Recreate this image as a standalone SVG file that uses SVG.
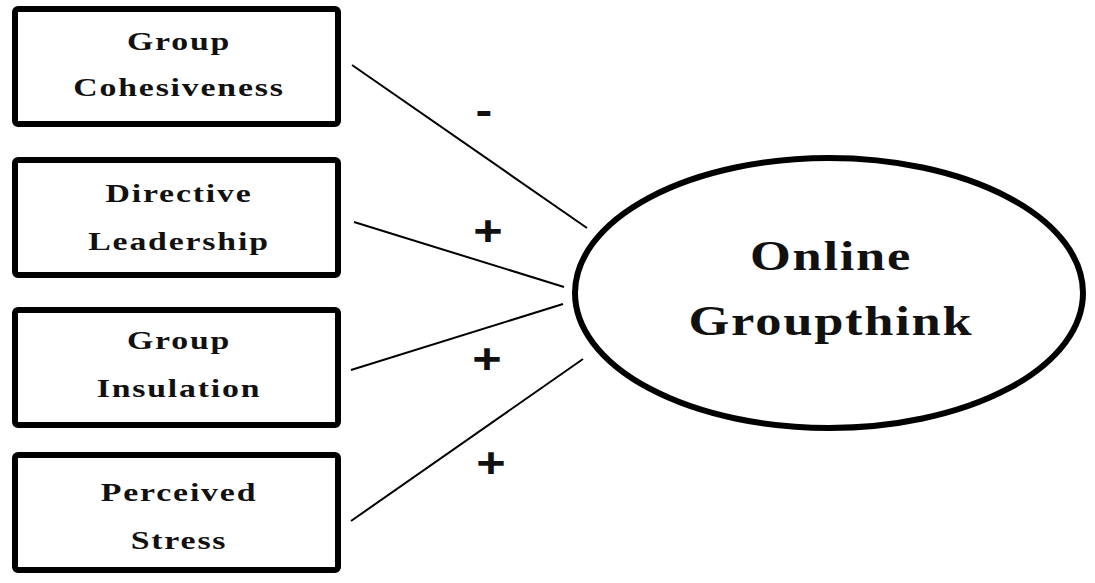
<svg xmlns="http://www.w3.org/2000/svg" width="1095" height="583" viewBox="0 0 1095 583">
<style>
.box{fill:#fff;stroke:#000;stroke-width:6}
.bt{font-family:"Liberation Serif",serif;font-weight:bold;font-size:26px;letter-spacing:1.4px;text-anchor:middle;fill:#111}
.et{font-family:"Liberation Serif",serif;font-weight:bold;font-size:42px;letter-spacing:1.4px;text-anchor:middle;fill:#111}
.lab{font-family:"Liberation Sans",sans-serif;font-weight:bold;font-size:42px;text-anchor:middle;fill:#111}
.c{stroke:#000;stroke-width:2;fill:none}
</style>
<rect width="1095" height="583" fill="#fff"/>
<g id="connectors">
<line class="c" x1="352" y1="65" x2="587" y2="228"/>
<line class="c" x1="354" y1="222" x2="564" y2="287"/>
<line class="c" x1="351" y1="370" x2="563" y2="304"/>
<line class="c" x1="351" y1="521" x2="583" y2="359"/>
<text class="lab" transform="translate(484,125) scale(1.2,1)" x="0" y="0">-</text>
<text class="lab" transform="translate(488,245) scale(1.2,1)" x="0" y="0">+</text>
<text class="lab" transform="translate(487,373) scale(1.2,1)" x="0" y="0">+</text>
<text class="lab" transform="translate(491,477) scale(1.2,1)" x="0" y="0">+</text>
</g>
<g id="cohesiveness">
<rect class="box" x="15" y="9" width="323" height="115" rx="3"/>
<g transform="translate(179,0) scale(1.3,1)">
<text class="bt" x="0" y="50">Group</text>
<text class="bt" x="0" y="96">Cohesiveness</text>
</g>
</g>
<g id="leadership">
<rect class="box" x="15" y="160" width="323" height="115" rx="3"/>
<g transform="translate(179,0) scale(1.3,1)">
<text class="bt" x="0" y="202">Directive</text>
<text class="bt" x="0" y="250">Leadership</text>
</g>
</g>
<g id="insulation">
<rect class="box" x="15" y="310" width="323" height="115" rx="3"/>
<g transform="translate(179,0) scale(1.3,1)">
<text class="bt" x="0" y="349">Group</text>
<text class="bt" x="0" y="397">Insulation</text>
</g>
</g>
<g id="stress">
<rect class="box" x="15" y="455" width="323" height="115" rx="3"/>
<g transform="translate(179,0) scale(1.3,1)">
<text class="bt" x="0" y="501">Perceived</text>
<text class="bt" x="0" y="549">Stress</text>
</g>
</g>
<g id="groupthink">
<ellipse cx="829" cy="293" rx="254" ry="135" fill="#fff" stroke="#000" stroke-width="6"/>
<g transform="translate(831,0) scale(1.25,1)">
<text class="et" x="0" y="270">Online</text>
<text class="et" x="0" y="335">Groupthink</text>
</g>
</g>
</svg>
